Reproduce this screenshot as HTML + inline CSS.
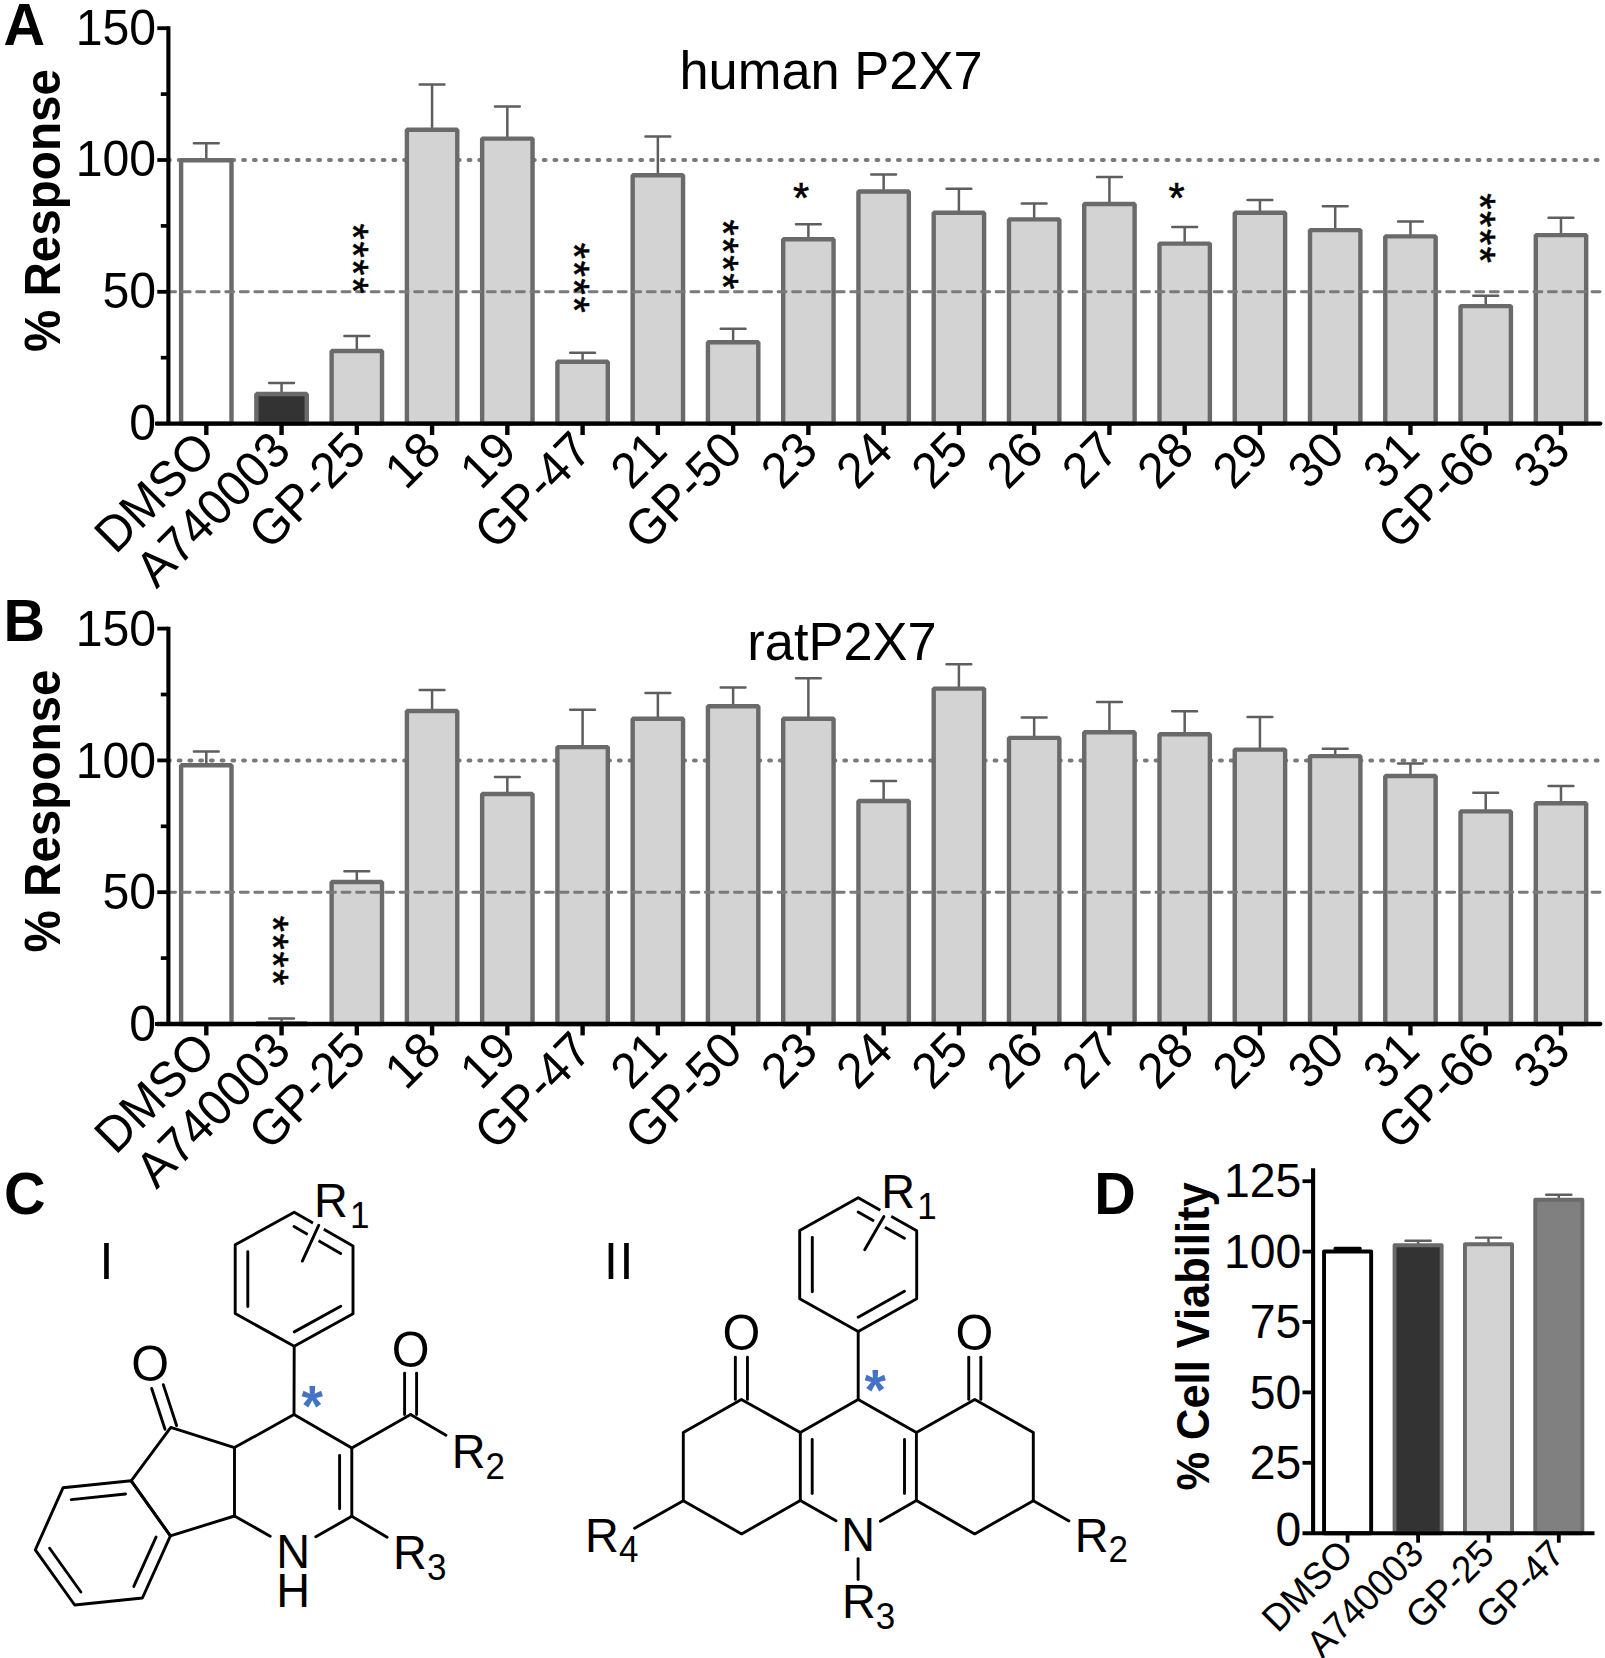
<!DOCTYPE html>
<html lang="en"><head><meta charset="utf-8"><title>P2X7 antagonist screening figure</title>
<style>html,body{margin:0;padding:0;background:#fff}body{width:1605px;height:1658px;overflow:hidden}svg{display:block}text{font-family:'Liberation Sans', sans-serif;fill:#000}</style></head><body>
<svg width="1605" height="1658" viewBox="0 0 1605 1658">
<rect width="1605" height="1658" fill="#fff"/>
<g>
<line x1="168.0" y1="160" x2="1599" y2="160" stroke="#7a7a7a" stroke-width="4.05" stroke-linecap="round" stroke-dasharray="1.8 8.935"/>
<path d="M193.9 143.3H218.7M206.3 143.3V160.2" stroke="#5e5e5e" stroke-width="2.5" fill="none" stroke-linecap="round"/>
<rect x="181.1" y="160.2" width="50.4" height="263.4" fill="#ffffff" stroke="#6a6a6a" stroke-width="4.4" stroke-linejoin="bevel"/>
<path d="M269.16 383H293.96M281.56 383V394" stroke="#5e5e5e" stroke-width="2.5" fill="none" stroke-linecap="round"/>
<rect x="256.36" y="394" width="50.4" height="29.6" fill="#333333" stroke="#6a6a6a" stroke-width="4.4" stroke-linejoin="bevel"/>
<path d="M344.42 335.9H369.22M356.82 335.9V351" stroke="#5e5e5e" stroke-width="2.5" fill="none" stroke-linecap="round"/>
<rect x="331.62" y="351" width="50.4" height="72.6" fill="#d3d3d3" stroke="#6a6a6a" stroke-width="4.4" stroke-linejoin="bevel"/>
<path d="M419.68 84.4H444.48M432.08 84.4V129.7" stroke="#5e5e5e" stroke-width="2.5" fill="none" stroke-linecap="round"/>
<rect x="406.88" y="129.7" width="50.4" height="293.9" fill="#d3d3d3" stroke="#6a6a6a" stroke-width="4.4" stroke-linejoin="bevel"/>
<path d="M494.94 106.6H519.74M507.34 106.6V138.6" stroke="#5e5e5e" stroke-width="2.5" fill="none" stroke-linecap="round"/>
<rect x="482.14" y="138.6" width="50.4" height="285" fill="#d3d3d3" stroke="#6a6a6a" stroke-width="4.4" stroke-linejoin="bevel"/>
<path d="M570.2 352.8H595M582.6 352.8V361.7" stroke="#5e5e5e" stroke-width="2.5" fill="none" stroke-linecap="round"/>
<rect x="557.4" y="361.7" width="50.4" height="61.9" fill="#d3d3d3" stroke="#6a6a6a" stroke-width="4.4" stroke-linejoin="bevel"/>
<path d="M645.46 136.5H670.26M657.86 136.5V175.3" stroke="#5e5e5e" stroke-width="2.5" fill="none" stroke-linecap="round"/>
<rect x="632.66" y="175.3" width="50.4" height="248.3" fill="#d3d3d3" stroke="#6a6a6a" stroke-width="4.4" stroke-linejoin="bevel"/>
<path d="M720.72 328.7H745.52M733.12 328.7V342.3" stroke="#5e5e5e" stroke-width="2.5" fill="none" stroke-linecap="round"/>
<rect x="707.92" y="342.3" width="50.4" height="81.3" fill="#d3d3d3" stroke="#6a6a6a" stroke-width="4.4" stroke-linejoin="bevel"/>
<path d="M795.98 224.2H820.78M808.38 224.2V239.3" stroke="#5e5e5e" stroke-width="2.5" fill="none" stroke-linecap="round"/>
<rect x="783.18" y="239.3" width="50.4" height="184.3" fill="#d3d3d3" stroke="#6a6a6a" stroke-width="4.4" stroke-linejoin="bevel"/>
<path d="M871.24 174.4H896.04M883.64 174.4V191.5" stroke="#5e5e5e" stroke-width="2.5" fill="none" stroke-linecap="round"/>
<rect x="858.44" y="191.5" width="50.4" height="232.1" fill="#d3d3d3" stroke="#6a6a6a" stroke-width="4.4" stroke-linejoin="bevel"/>
<path d="M946.5 188.8H971.3M958.9 188.8V212.7" stroke="#5e5e5e" stroke-width="2.5" fill="none" stroke-linecap="round"/>
<rect x="933.7" y="212.7" width="50.4" height="210.9" fill="#d3d3d3" stroke="#6a6a6a" stroke-width="4.4" stroke-linejoin="bevel"/>
<path d="M1021.76 203.6H1046.56M1034.16 203.6V219.4" stroke="#5e5e5e" stroke-width="2.5" fill="none" stroke-linecap="round"/>
<rect x="1008.96" y="219.4" width="50.4" height="204.2" fill="#d3d3d3" stroke="#6a6a6a" stroke-width="4.4" stroke-linejoin="bevel"/>
<path d="M1097.02 177.1H1121.82M1109.42 177.1V204" stroke="#5e5e5e" stroke-width="2.5" fill="none" stroke-linecap="round"/>
<rect x="1084.22" y="204" width="50.4" height="219.6" fill="#d3d3d3" stroke="#6a6a6a" stroke-width="4.4" stroke-linejoin="bevel"/>
<path d="M1172.28 227H1197.08M1184.68 227V243.6" stroke="#5e5e5e" stroke-width="2.5" fill="none" stroke-linecap="round"/>
<rect x="1159.48" y="243.6" width="50.4" height="180" fill="#d3d3d3" stroke="#6a6a6a" stroke-width="4.4" stroke-linejoin="bevel"/>
<path d="M1247.54 200H1272.34M1259.94 200V212.7" stroke="#5e5e5e" stroke-width="2.5" fill="none" stroke-linecap="round"/>
<rect x="1234.74" y="212.7" width="50.4" height="210.9" fill="#d3d3d3" stroke="#6a6a6a" stroke-width="4.4" stroke-linejoin="bevel"/>
<path d="M1322.8 206.3H1347.6M1335.2 206.3V230.1" stroke="#5e5e5e" stroke-width="2.5" fill="none" stroke-linecap="round"/>
<rect x="1310" y="230.1" width="50.4" height="193.5" fill="#d3d3d3" stroke="#6a6a6a" stroke-width="4.4" stroke-linejoin="bevel"/>
<path d="M1398.06 221.5H1422.86M1410.46 221.5V236.4" stroke="#5e5e5e" stroke-width="2.5" fill="none" stroke-linecap="round"/>
<rect x="1385.26" y="236.4" width="50.4" height="187.2" fill="#d3d3d3" stroke="#6a6a6a" stroke-width="4.4" stroke-linejoin="bevel"/>
<path d="M1473.32 295.8H1498.12M1485.72 295.8V306.1" stroke="#5e5e5e" stroke-width="2.5" fill="none" stroke-linecap="round"/>
<rect x="1460.52" y="306.1" width="50.4" height="117.5" fill="#d3d3d3" stroke="#6a6a6a" stroke-width="4.4" stroke-linejoin="bevel"/>
<path d="M1548.58 217.8H1573.38M1560.98 217.8V235.1" stroke="#5e5e5e" stroke-width="2.5" fill="none" stroke-linecap="round"/>
<rect x="1535.78" y="235.1" width="50.4" height="188.5" fill="#d3d3d3" stroke="#6a6a6a" stroke-width="4.4" stroke-linejoin="bevel"/>
<line x1="167.6" y1="291.8" x2="1600.5" y2="291.8" stroke="#7a7a7a" stroke-width="2.9" stroke-linecap="round" stroke-dasharray="8 6.535"/>
<path d="M168.4 26.3V423.6" stroke="#000" stroke-width="4.1" fill="none"/>
<path d="M157.3 423.6H1600.3" stroke="#000" stroke-width="4.3" fill="none" stroke-linecap="round"/>
<rect x="155" y="421.65" width="3" height="3.9" fill="#000"/>
<path d="M157.3 291.8H168.4" stroke="#000" stroke-width="3.8"/>
<path d="M157.3 160H168.4" stroke="#000" stroke-width="3.8"/>
<path d="M157.3 28.2H168.4" stroke="#000" stroke-width="3.8"/>
<path d="M160.8 357.7H168.4" stroke="#000" stroke-width="3.7"/>
<path d="M160.8 225.9H168.4" stroke="#000" stroke-width="3.7"/>
<path d="M160.8 94.1H168.4" stroke="#000" stroke-width="3.7"/>
<path d="M206.3 423.6V435" stroke="#000" stroke-width="4.4"/>
<path d="M281.56 423.6V435" stroke="#000" stroke-width="4.4"/>
<path d="M356.82 423.6V435" stroke="#000" stroke-width="4.4"/>
<path d="M432.08 423.6V435" stroke="#000" stroke-width="4.4"/>
<path d="M507.34 423.6V435" stroke="#000" stroke-width="4.4"/>
<path d="M582.6 423.6V435" stroke="#000" stroke-width="4.4"/>
<path d="M657.86 423.6V435" stroke="#000" stroke-width="4.4"/>
<path d="M733.12 423.6V435" stroke="#000" stroke-width="4.4"/>
<path d="M808.38 423.6V435" stroke="#000" stroke-width="4.4"/>
<path d="M883.64 423.6V435" stroke="#000" stroke-width="4.4"/>
<path d="M958.9 423.6V435" stroke="#000" stroke-width="4.4"/>
<path d="M1034.16 423.6V435" stroke="#000" stroke-width="4.4"/>
<path d="M1109.42 423.6V435" stroke="#000" stroke-width="4.4"/>
<path d="M1184.68 423.6V435" stroke="#000" stroke-width="4.4"/>
<path d="M1259.94 423.6V435" stroke="#000" stroke-width="4.4"/>
<path d="M1335.2 423.6V435" stroke="#000" stroke-width="4.4"/>
<path d="M1410.46 423.6V435" stroke="#000" stroke-width="4.4"/>
<path d="M1485.72 423.6V435" stroke="#000" stroke-width="4.4"/>
<path d="M1560.98 423.6V435" stroke="#000" stroke-width="4.4"/>
<text transform="translate(156.1 439.9) scale(0.962 1)" font-size="50.13" text-anchor="end">0</text>
<text transform="translate(156.1 308.1) scale(0.962 1)" font-size="50.13" text-anchor="end">50</text>
<text transform="translate(156.1 176.3) scale(0.962 1)" font-size="50.13" text-anchor="end">100</text>
<text transform="translate(156.1 44.5) scale(0.962 1)" font-size="50.13" text-anchor="end">150</text>
<text transform="translate(217.8 453) rotate(-45) scale(0.962 1)" font-size="50.13" text-anchor="end">DMSO</text>
<text transform="translate(293.06 453) rotate(-45) scale(0.962 1)" font-size="50.13" text-anchor="end">A740003</text>
<text transform="translate(368.32 453) rotate(-45) scale(0.962 1)" font-size="50.13" text-anchor="end">GP-25</text>
<text transform="translate(443.58 453) rotate(-45) scale(0.962 1)" font-size="50.13" text-anchor="end">18</text>
<text transform="translate(518.84 453) rotate(-45) scale(0.962 1)" font-size="50.13" text-anchor="end">19</text>
<text transform="translate(594.1 453) rotate(-45) scale(0.962 1)" font-size="50.13" text-anchor="end">GP-47</text>
<text transform="translate(669.36 453) rotate(-45) scale(0.962 1)" font-size="50.13" text-anchor="end">21</text>
<text transform="translate(744.62 453) rotate(-45) scale(0.962 1)" font-size="50.13" text-anchor="end">GP-50</text>
<text transform="translate(819.88 453) rotate(-45) scale(0.962 1)" font-size="50.13" text-anchor="end">23</text>
<text transform="translate(895.14 453) rotate(-45) scale(0.962 1)" font-size="50.13" text-anchor="end">24</text>
<text transform="translate(970.4 453) rotate(-45) scale(0.962 1)" font-size="50.13" text-anchor="end">25</text>
<text transform="translate(1045.66 453) rotate(-45) scale(0.962 1)" font-size="50.13" text-anchor="end">26</text>
<text transform="translate(1120.92 453) rotate(-45) scale(0.962 1)" font-size="50.13" text-anchor="end">27</text>
<text transform="translate(1196.18 453) rotate(-45) scale(0.962 1)" font-size="50.13" text-anchor="end">28</text>
<text transform="translate(1271.44 453) rotate(-45) scale(0.962 1)" font-size="50.13" text-anchor="end">29</text>
<text transform="translate(1346.7 453) rotate(-45) scale(0.962 1)" font-size="50.13" text-anchor="end">30</text>
<text transform="translate(1421.96 453) rotate(-45) scale(0.962 1)" font-size="50.13" text-anchor="end">31</text>
<text transform="translate(1497.22 453) rotate(-45) scale(0.962 1)" font-size="50.13" text-anchor="end">GP-66</text>
<text transform="translate(1572.48 453) rotate(-45) scale(0.962 1)" font-size="50.13" text-anchor="end">33</text>
<text transform="translate(59.6 210.6) rotate(-90) scale(0.962 1)" font-size="49.5" text-anchor="middle" font-weight="bold">% Response</text>
<text transform="translate(831 89.4) scale(0.962 1)" font-size="54.5" text-anchor="middle">human P2X7</text>
<text transform="translate(24.3 45) scale(0.962 1)" font-size="59.8" text-anchor="middle" font-weight="bold">A</text>
<text transform="translate(338.6 259.3) rotate(90) scale(0.962 1)" font-size="43.16" text-anchor="middle" letter-spacing="1.8" stroke="#000" stroke-width="0.6">****</text>
<text transform="translate(560.4 278.6) rotate(90) scale(0.962 1)" font-size="43.16" text-anchor="middle" letter-spacing="1.8" stroke="#000" stroke-width="0.6">****</text>
<text transform="translate(709.2 255.3) rotate(90) scale(0.962 1)" font-size="43.16" text-anchor="middle" letter-spacing="1.8" stroke="#000" stroke-width="0.6">****</text>
<text transform="translate(801 212.3) scale(0.962 1)" font-size="43.16" text-anchor="middle" stroke="#000" stroke-width="0.6">*</text>
<text transform="translate(1176.5 212.3) scale(0.962 1)" font-size="43.16" text-anchor="middle" stroke="#000" stroke-width="0.6">*</text>
<text transform="translate(1466.4 228.9) rotate(90) scale(0.962 1)" font-size="43.16" text-anchor="middle" letter-spacing="1.8" stroke="#000" stroke-width="0.6">****</text>
</g>
<g>
<line x1="168.0" y1="760.4" x2="1599" y2="760.4" stroke="#7a7a7a" stroke-width="4.05" stroke-linecap="round" stroke-dasharray="1.8 8.935"/>
<path d="M193.9 751.5H218.7M206.3 751.5V765.3" stroke="#5e5e5e" stroke-width="2.5" fill="none" stroke-linecap="round"/>
<rect x="181.1" y="765.3" width="50.4" height="258.7" fill="#ffffff" stroke="#6a6a6a" stroke-width="4.4" stroke-linejoin="bevel"/>
<path d="M269.16 1018.4H293.96M281.56 1018.4V1023.4" stroke="#5e5e5e" stroke-width="2.5" fill="none" stroke-linecap="round"/>
<rect x="256.36" y="1023.4" width="50.4" height="0.6" fill="#333333" stroke="#6a6a6a" stroke-width="4.4" stroke-linejoin="bevel"/>
<path d="M344.42 871.3H369.22M356.82 871.3V882" stroke="#5e5e5e" stroke-width="2.5" fill="none" stroke-linecap="round"/>
<rect x="331.62" y="882" width="50.4" height="142" fill="#d3d3d3" stroke="#6a6a6a" stroke-width="4.4" stroke-linejoin="bevel"/>
<path d="M419.68 689.9H444.48M432.08 689.9V711" stroke="#5e5e5e" stroke-width="2.5" fill="none" stroke-linecap="round"/>
<rect x="406.88" y="711" width="50.4" height="313" fill="#d3d3d3" stroke="#6a6a6a" stroke-width="4.4" stroke-linejoin="bevel"/>
<path d="M494.94 777.1H519.74M507.34 777.1V794" stroke="#5e5e5e" stroke-width="2.5" fill="none" stroke-linecap="round"/>
<rect x="482.14" y="794" width="50.4" height="230" fill="#d3d3d3" stroke="#6a6a6a" stroke-width="4.4" stroke-linejoin="bevel"/>
<path d="M570.2 709.8H595M582.6 709.8V747.1" stroke="#5e5e5e" stroke-width="2.5" fill="none" stroke-linecap="round"/>
<rect x="557.4" y="747.1" width="50.4" height="276.9" fill="#d3d3d3" stroke="#6a6a6a" stroke-width="4.4" stroke-linejoin="bevel"/>
<path d="M645.46 693.1H670.26M657.86 693.1V718.7" stroke="#5e5e5e" stroke-width="2.5" fill="none" stroke-linecap="round"/>
<rect x="632.66" y="718.7" width="50.4" height="305.3" fill="#d3d3d3" stroke="#6a6a6a" stroke-width="4.4" stroke-linejoin="bevel"/>
<path d="M720.72 687.4H745.52M733.12 687.4V706.3" stroke="#5e5e5e" stroke-width="2.5" fill="none" stroke-linecap="round"/>
<rect x="707.92" y="706.3" width="50.4" height="317.7" fill="#d3d3d3" stroke="#6a6a6a" stroke-width="4.4" stroke-linejoin="bevel"/>
<path d="M795.98 678.2H820.78M808.38 678.2V718.7" stroke="#5e5e5e" stroke-width="2.5" fill="none" stroke-linecap="round"/>
<rect x="783.18" y="718.7" width="50.4" height="305.3" fill="#d3d3d3" stroke="#6a6a6a" stroke-width="4.4" stroke-linejoin="bevel"/>
<path d="M871.24 781.1H896.04M883.64 781.1V801" stroke="#5e5e5e" stroke-width="2.5" fill="none" stroke-linecap="round"/>
<rect x="858.44" y="801" width="50.4" height="223" fill="#d3d3d3" stroke="#6a6a6a" stroke-width="4.4" stroke-linejoin="bevel"/>
<path d="M946.5 664.2H971.3M958.9 664.2V688.6" stroke="#5e5e5e" stroke-width="2.5" fill="none" stroke-linecap="round"/>
<rect x="933.7" y="688.6" width="50.4" height="335.4" fill="#d3d3d3" stroke="#6a6a6a" stroke-width="4.4" stroke-linejoin="bevel"/>
<path d="M1021.76 717.6H1046.56M1034.16 717.6V737.9" stroke="#5e5e5e" stroke-width="2.5" fill="none" stroke-linecap="round"/>
<rect x="1008.96" y="737.9" width="50.4" height="286.1" fill="#d3d3d3" stroke="#6a6a6a" stroke-width="4.4" stroke-linejoin="bevel"/>
<path d="M1097.02 701.9H1121.82M1109.42 701.9V732.2" stroke="#5e5e5e" stroke-width="2.5" fill="none" stroke-linecap="round"/>
<rect x="1084.22" y="732.2" width="50.4" height="291.8" fill="#d3d3d3" stroke="#6a6a6a" stroke-width="4.4" stroke-linejoin="bevel"/>
<path d="M1172.28 711.3H1197.08M1184.68 711.3V734.2" stroke="#5e5e5e" stroke-width="2.5" fill="none" stroke-linecap="round"/>
<rect x="1159.48" y="734.2" width="50.4" height="289.8" fill="#d3d3d3" stroke="#6a6a6a" stroke-width="4.4" stroke-linejoin="bevel"/>
<path d="M1247.54 717.1H1272.34M1259.94 717.1V749.6" stroke="#5e5e5e" stroke-width="2.5" fill="none" stroke-linecap="round"/>
<rect x="1234.74" y="749.6" width="50.4" height="274.4" fill="#d3d3d3" stroke="#6a6a6a" stroke-width="4.4" stroke-linejoin="bevel"/>
<path d="M1322.8 748.7H1347.6M1335.2 748.7V756.1" stroke="#5e5e5e" stroke-width="2.5" fill="none" stroke-linecap="round"/>
<rect x="1310" y="756.1" width="50.4" height="267.9" fill="#d3d3d3" stroke="#6a6a6a" stroke-width="4.4" stroke-linejoin="bevel"/>
<path d="M1398.06 763.4H1422.86M1410.46 763.4V776" stroke="#5e5e5e" stroke-width="2.5" fill="none" stroke-linecap="round"/>
<rect x="1385.26" y="776" width="50.4" height="248" fill="#d3d3d3" stroke="#6a6a6a" stroke-width="4.4" stroke-linejoin="bevel"/>
<path d="M1473.32 792.8H1498.12M1485.72 792.8V811.4" stroke="#5e5e5e" stroke-width="2.5" fill="none" stroke-linecap="round"/>
<rect x="1460.52" y="811.4" width="50.4" height="212.6" fill="#d3d3d3" stroke="#6a6a6a" stroke-width="4.4" stroke-linejoin="bevel"/>
<path d="M1548.58 785.9H1573.38M1560.98 785.9V803.2" stroke="#5e5e5e" stroke-width="2.5" fill="none" stroke-linecap="round"/>
<rect x="1535.78" y="803.2" width="50.4" height="220.8" fill="#d3d3d3" stroke="#6a6a6a" stroke-width="4.4" stroke-linejoin="bevel"/>
<line x1="167.6" y1="892.2" x2="1600.5" y2="892.2" stroke="#7a7a7a" stroke-width="2.9" stroke-linecap="round" stroke-dasharray="8 6.535"/>
<path d="M168.4 626.7V1024" stroke="#000" stroke-width="4.1" fill="none"/>
<path d="M157.3 1024H1600.3" stroke="#000" stroke-width="4.3" fill="none" stroke-linecap="round"/>
<rect x="155" y="1022.05" width="3" height="3.9" fill="#000"/>
<path d="M157.3 892.2H168.4" stroke="#000" stroke-width="3.8"/>
<path d="M157.3 760.4H168.4" stroke="#000" stroke-width="3.8"/>
<path d="M157.3 628.6H168.4" stroke="#000" stroke-width="3.8"/>
<path d="M160.8 958.1H168.4" stroke="#000" stroke-width="3.7"/>
<path d="M160.8 826.3H168.4" stroke="#000" stroke-width="3.7"/>
<path d="M160.8 694.5H168.4" stroke="#000" stroke-width="3.7"/>
<path d="M206.3 1024V1035.4" stroke="#000" stroke-width="4.4"/>
<path d="M281.56 1024V1035.4" stroke="#000" stroke-width="4.4"/>
<path d="M356.82 1024V1035.4" stroke="#000" stroke-width="4.4"/>
<path d="M432.08 1024V1035.4" stroke="#000" stroke-width="4.4"/>
<path d="M507.34 1024V1035.4" stroke="#000" stroke-width="4.4"/>
<path d="M582.6 1024V1035.4" stroke="#000" stroke-width="4.4"/>
<path d="M657.86 1024V1035.4" stroke="#000" stroke-width="4.4"/>
<path d="M733.12 1024V1035.4" stroke="#000" stroke-width="4.4"/>
<path d="M808.38 1024V1035.4" stroke="#000" stroke-width="4.4"/>
<path d="M883.64 1024V1035.4" stroke="#000" stroke-width="4.4"/>
<path d="M958.9 1024V1035.4" stroke="#000" stroke-width="4.4"/>
<path d="M1034.16 1024V1035.4" stroke="#000" stroke-width="4.4"/>
<path d="M1109.42 1024V1035.4" stroke="#000" stroke-width="4.4"/>
<path d="M1184.68 1024V1035.4" stroke="#000" stroke-width="4.4"/>
<path d="M1259.94 1024V1035.4" stroke="#000" stroke-width="4.4"/>
<path d="M1335.2 1024V1035.4" stroke="#000" stroke-width="4.4"/>
<path d="M1410.46 1024V1035.4" stroke="#000" stroke-width="4.4"/>
<path d="M1485.72 1024V1035.4" stroke="#000" stroke-width="4.4"/>
<path d="M1560.98 1024V1035.4" stroke="#000" stroke-width="4.4"/>
<text transform="translate(156.1 1041.2) scale(0.962 1)" font-size="50.13" text-anchor="end">0</text>
<text transform="translate(156.1 909.4) scale(0.962 1)" font-size="50.13" text-anchor="end">50</text>
<text transform="translate(156.1 777.6) scale(0.962 1)" font-size="50.13" text-anchor="end">100</text>
<text transform="translate(156.1 645.8) scale(0.962 1)" font-size="50.13" text-anchor="end">150</text>
<text transform="translate(217.8 1053.4) rotate(-45) scale(0.962 1)" font-size="50.13" text-anchor="end">DMSO</text>
<text transform="translate(293.06 1053.4) rotate(-45) scale(0.962 1)" font-size="50.13" text-anchor="end">A740003</text>
<text transform="translate(368.32 1053.4) rotate(-45) scale(0.962 1)" font-size="50.13" text-anchor="end">GP-25</text>
<text transform="translate(443.58 1053.4) rotate(-45) scale(0.962 1)" font-size="50.13" text-anchor="end">18</text>
<text transform="translate(518.84 1053.4) rotate(-45) scale(0.962 1)" font-size="50.13" text-anchor="end">19</text>
<text transform="translate(594.1 1053.4) rotate(-45) scale(0.962 1)" font-size="50.13" text-anchor="end">GP-47</text>
<text transform="translate(669.36 1053.4) rotate(-45) scale(0.962 1)" font-size="50.13" text-anchor="end">21</text>
<text transform="translate(744.62 1053.4) rotate(-45) scale(0.962 1)" font-size="50.13" text-anchor="end">GP-50</text>
<text transform="translate(819.88 1053.4) rotate(-45) scale(0.962 1)" font-size="50.13" text-anchor="end">23</text>
<text transform="translate(895.14 1053.4) rotate(-45) scale(0.962 1)" font-size="50.13" text-anchor="end">24</text>
<text transform="translate(970.4 1053.4) rotate(-45) scale(0.962 1)" font-size="50.13" text-anchor="end">25</text>
<text transform="translate(1045.66 1053.4) rotate(-45) scale(0.962 1)" font-size="50.13" text-anchor="end">26</text>
<text transform="translate(1120.92 1053.4) rotate(-45) scale(0.962 1)" font-size="50.13" text-anchor="end">27</text>
<text transform="translate(1196.18 1053.4) rotate(-45) scale(0.962 1)" font-size="50.13" text-anchor="end">28</text>
<text transform="translate(1271.44 1053.4) rotate(-45) scale(0.962 1)" font-size="50.13" text-anchor="end">29</text>
<text transform="translate(1346.7 1053.4) rotate(-45) scale(0.962 1)" font-size="50.13" text-anchor="end">30</text>
<text transform="translate(1421.96 1053.4) rotate(-45) scale(0.962 1)" font-size="50.13" text-anchor="end">31</text>
<text transform="translate(1497.22 1053.4) rotate(-45) scale(0.962 1)" font-size="50.13" text-anchor="end">GP-66</text>
<text transform="translate(1572.48 1053.4) rotate(-45) scale(0.962 1)" font-size="50.13" text-anchor="end">33</text>
<text transform="translate(59.6 811) rotate(-90) scale(0.962 1)" font-size="49.5" text-anchor="middle" font-weight="bold">% Response</text>
<text transform="translate(842 659.8) scale(0.962 1)" font-size="54.5" text-anchor="middle">ratP2X7</text>
<text transform="translate(24.3 641) scale(0.962 1)" font-size="59.8" text-anchor="middle" font-weight="bold">B</text>
<text transform="translate(258.9 951.5) rotate(90) scale(0.962 1)" font-size="43.16" text-anchor="middle" letter-spacing="1.8" stroke="#000" stroke-width="0.6">****</text>
</g>
<g>
<path d="M294.2 1212.2L353 1246L353 1313.8L294.2 1346.3L235.2 1313.6L235.2 1244.8Z" fill="none" stroke="#000" stroke-width="2.9" stroke-linejoin="round" stroke-linecap="round"/>
<line x1="247.8" y1="1306.6" x2="247.8" y2="1251.8" stroke="#000" stroke-width="2.9" stroke-linecap="round"/>
<line x1="340.78" y1="1306.16" x2="294.23" y2="1331.89" stroke="#000" stroke-width="2.9" stroke-linecap="round"/>
<line x1="293.99" y1="1226.61" x2="340.65" y2="1253.44" stroke="#000" stroke-width="2.9" stroke-linecap="round"/>
<line x1="303.55" y1="1258.37" x2="320.3" y2="1222" stroke="#fff" stroke-width="12.5" stroke-linecap="butt"/>
<line x1="302.3" y1="1261.1" x2="318.8" y2="1225.2" stroke="#000" stroke-width="2.9" stroke-linecap="round"/>
<line x1="294.2" y1="1346.3" x2="294" y2="1414.6" stroke="#000" stroke-width="2.9" stroke-linecap="round"/>
<path d="M234.5 1447.6L294 1414.6L351.8 1448L351.8 1516.3" fill="none" stroke="#000" stroke-width="2.9" stroke-linejoin="round" stroke-linecap="round"/>
<line x1="234.5" y1="1447.6" x2="234.5" y2="1516" stroke="#000" stroke-width="2.9" stroke-linecap="round"/>
<line x1="234.5" y1="1516" x2="270.2" y2="1536.2" stroke="#000" stroke-width="2.9" stroke-linecap="round"/>
<line x1="351.8" y1="1516.3" x2="315.8" y2="1536.8" stroke="#000" stroke-width="2.9" stroke-linecap="round"/>
<line x1="339.6" y1="1455.5" x2="339.6" y2="1508.8" stroke="#000" stroke-width="2.9" stroke-linecap="round"/>
<path d="M234.5 1447.6L170.8 1427.4L131.2 1480.8L170.4 1535.9L234.5 1516" fill="none" stroke="#000" stroke-width="2.9" stroke-linejoin="round" stroke-linecap="round"/>
<path d="M131.2 1480.8L170.4 1535.9L142.4 1598L74.7 1605L35.3 1549.9L63 1487.8Z" fill="none" stroke="#000" stroke-width="2.9" stroke-linejoin="round" stroke-linecap="round"/>
<line x1="71.25" y1="1499.62" x2="125.52" y2="1494.05" stroke="#000" stroke-width="2.9" stroke-linecap="round"/>
<line x1="80.88" y1="1591.98" x2="49.62" y2="1548.27" stroke="#000" stroke-width="2.9" stroke-linecap="round"/>
<line x1="133.79" y1="1586.44" x2="156.04" y2="1537.1" stroke="#000" stroke-width="2.9" stroke-linecap="round"/>
<line x1="176.6" y1="1425.51" x2="163.28" y2="1384.65" stroke="#000" stroke-width="2.9" stroke-linecap="round"/>
<line x1="165" y1="1429.29" x2="151.68" y2="1388.43" stroke="#000" stroke-width="2.9" stroke-linecap="round"/>
<line x1="351.8" y1="1448" x2="410.6" y2="1414.6" stroke="#000" stroke-width="2.9" stroke-linecap="round"/>
<line x1="410.6" y1="1414.6" x2="446" y2="1435.3" stroke="#000" stroke-width="2.9" stroke-linecap="round"/>
<line x1="416.6" y1="1414.6" x2="416.6" y2="1373.2" stroke="#000" stroke-width="2.9" stroke-linecap="round"/>
<line x1="404.6" y1="1414.6" x2="404.6" y2="1373.2" stroke="#000" stroke-width="2.9" stroke-linecap="round"/>
<line x1="351.8" y1="1516.3" x2="387.1" y2="1537.2" stroke="#000" stroke-width="2.9" stroke-linecap="round"/>
</g>
<text transform="translate(150.1 1380.6) scale(0.962 1)" font-size="50.54" text-anchor="middle">O</text>
<text transform="translate(410.7 1366.9) scale(0.962 1)" font-size="50.54" text-anchor="middle">O</text>
<text transform="translate(293.2 1567.8) scale(0.962 1)" font-size="48.67" text-anchor="middle">N</text>
<text transform="translate(293.2 1606.9) scale(0.962 1)" font-size="48.67" text-anchor="middle">H</text>
<text transform="translate(314.1 1217.1) scale(0.962 1)" font-size="48.67">R<tspan font-size="36.4" dx="2.3" dy="10.8">1</tspan></text>
<text transform="translate(451.8 1467.7) scale(0.962 1)" font-size="48.67">R<tspan font-size="36.4" dy="10.8">2</tspan></text>
<text transform="translate(393.1 1569) scale(0.962 1)" font-size="48.67">R<tspan font-size="36.4" dy="10.8">3</tspan></text>
<text transform="translate(312.3 1425.5) scale(0.962 1)" font-size="57.2" text-anchor="middle" font-weight="bold" style="fill:#4472c4">*</text>
<text transform="translate(106.4 1279.1) scale(0.962 1)" font-size="52" text-anchor="middle">I</text>
<text transform="translate(24.8 1213.8) scale(0.962 1)" font-size="59.8" text-anchor="middle" font-weight="bold">C</text>
<g>
<path d="M858.2 1197.7L916.7 1230.7L916.7 1298.8L858.2 1331.6L799.7 1298.8L799.7 1230.5Z" fill="none" stroke="#000" stroke-width="2.9" stroke-linejoin="round" stroke-linecap="round"/>
<line x1="812.3" y1="1291.8" x2="812.3" y2="1237.5" stroke="#000" stroke-width="2.9" stroke-linecap="round"/>
<line x1="904.43" y1="1291.23" x2="858.14" y2="1317.19" stroke="#000" stroke-width="2.9" stroke-linecap="round"/>
<line x1="858.11" y1="1212.11" x2="904.41" y2="1238.24" stroke="#000" stroke-width="2.9" stroke-linecap="round"/>
<line x1="866.2" y1="1247.2" x2="887.3" y2="1210.7" stroke="#fff" stroke-width="12.5" stroke-linecap="butt"/>
<line x1="864.7" y1="1249.8" x2="883.9" y2="1216.6" stroke="#000" stroke-width="2.9" stroke-linecap="round"/>
<line x1="858.2" y1="1331.6" x2="858.2" y2="1399.4" stroke="#000" stroke-width="2.9" stroke-linecap="round"/>
<path d="M800.3 1500.6L800.3 1432.5L858.2 1399.4L916.4 1432.5L916.4 1500.6" fill="none" stroke="#000" stroke-width="2.9" stroke-linejoin="round" stroke-linecap="round"/>
<line x1="800.3" y1="1500.6" x2="836" y2="1520.8" stroke="#000" stroke-width="2.9" stroke-linecap="round"/>
<line x1="916.4" y1="1500.6" x2="880.3" y2="1521.2" stroke="#000" stroke-width="2.9" stroke-linecap="round"/>
<line x1="812.2" y1="1439.5" x2="812.2" y2="1493.6" stroke="#000" stroke-width="2.9" stroke-linecap="round"/>
<line x1="904.5" y1="1439.5" x2="904.5" y2="1493.6" stroke="#000" stroke-width="2.9" stroke-linecap="round"/>
<path d="M800.3 1432.5L741.4 1399.4L683.3 1432.5L683.3 1500.8L741.6 1533.9L800.3 1500.6" fill="none" stroke="#000" stroke-width="2.9" stroke-linejoin="round" stroke-linecap="round"/>
<path d="M916.4 1432.5L974.8 1399.4L1033.3 1432.5L1033.3 1500.8L974.7 1533.9L916.4 1500.6" fill="none" stroke="#000" stroke-width="2.9" stroke-linejoin="round" stroke-linecap="round"/>
<line x1="747.45" y1="1399.4" x2="747.45" y2="1357.2" stroke="#000" stroke-width="2.9" stroke-linecap="round"/>
<line x1="735.35" y1="1399.4" x2="735.35" y2="1357.2" stroke="#000" stroke-width="2.9" stroke-linecap="round"/>
<line x1="980.85" y1="1399.4" x2="980.85" y2="1357.2" stroke="#000" stroke-width="2.9" stroke-linecap="round"/>
<line x1="968.75" y1="1399.4" x2="968.75" y2="1357.2" stroke="#000" stroke-width="2.9" stroke-linecap="round"/>
<line x1="683.3" y1="1500.8" x2="634.6" y2="1528.2" stroke="#000" stroke-width="2.9" stroke-linecap="round"/>
<line x1="1033.3" y1="1500.8" x2="1069" y2="1520.9" stroke="#000" stroke-width="2.9" stroke-linecap="round"/>
<line x1="858.1" y1="1558.6" x2="858.1" y2="1579.6" stroke="#000" stroke-width="2.9" stroke-linecap="round"/>
</g>
<text transform="translate(741.5 1350.4) scale(0.962 1)" font-size="50.54" text-anchor="middle">O</text>
<text transform="translate(974.3 1350.4) scale(0.962 1)" font-size="50.54" text-anchor="middle">O</text>
<text transform="translate(858.1 1551.2) scale(0.962 1)" font-size="48.67" text-anchor="middle">N</text>
<text transform="translate(881.3 1208.3) scale(0.962 1)" font-size="48.67">R<tspan font-size="36.4" dx="2.3" dy="10.8">1</tspan></text>
<text transform="translate(841.9 1618.2) scale(0.962 1)" font-size="48.67">R<tspan font-size="36.4" dy="10.8">3</tspan></text>
<text transform="translate(585.1 1551.5) scale(0.962 1)" font-size="48.67">R<tspan font-size="36.4" dy="10.8">4</tspan></text>
<text transform="translate(1074.8 1551.5) scale(0.962 1)" font-size="48.67">R<tspan font-size="36.4" dy="10.8">2</tspan></text>
<text transform="translate(875.2 1409.6) scale(0.962 1)" font-size="57.2" text-anchor="middle" font-weight="bold" style="fill:#4472c4">*</text>
<text transform="translate(619.4 1279) scale(0.962 1)" font-size="52" text-anchor="middle" letter-spacing="1.6">II</text>
<g>
<path d="M1335 1248.4H1360.2M1347.6 1248.4V1251.5" stroke="#000" stroke-width="3.2" fill="none" stroke-linecap="round"/>
<rect x="1324.05" y="1251.5" width="47.1" height="281.7" fill="#fff" stroke="#000" stroke-width="3.9" stroke-linejoin="round"/>
<path d="M1405.5 1240.8H1430.7M1418.1 1240.8V1245.3" stroke="#5e5e5e" stroke-width="2.4" fill="none" stroke-linecap="round"/>
<rect x="1394.55" y="1245.3" width="47.1" height="287.9" fill="#333333" stroke="#6a6a6a" stroke-width="3.9" stroke-linejoin="round"/>
<path d="M1475.9 1237.6H1501.1M1488.5 1237.6V1244.2" stroke="#5e5e5e" stroke-width="2.4" fill="none" stroke-linecap="round"/>
<rect x="1464.95" y="1244.2" width="47.1" height="289" fill="#d3d3d3" stroke="#6a6a6a" stroke-width="3.9" stroke-linejoin="round"/>
<path d="M1546.2 1194.7H1571.4M1558.8 1194.7V1199.8" stroke="#5e5e5e" stroke-width="2.4" fill="none" stroke-linecap="round"/>
<rect x="1535.25" y="1199.8" width="47.1" height="333.4" fill="#808080" stroke="#6a6a6a" stroke-width="3.9" stroke-linejoin="round"/>
<path d="M1313.1 1168.2V1533.2" stroke="#000" stroke-width="4.1" fill="none"/>
<path d="M1302.5 1533.2H1594.5" stroke="#000" stroke-width="4" fill="none"/>
<path d="M1302.5 1462.8H1313.1" stroke="#000" stroke-width="3.8"/>
<text transform="translate(1301.2 1479) scale(0.962 1)" font-size="48.15" text-anchor="end">25</text>
<path d="M1302.5 1392.4H1313.1" stroke="#000" stroke-width="3.8"/>
<text transform="translate(1301.2 1408.6) scale(0.962 1)" font-size="48.15" text-anchor="end">50</text>
<path d="M1302.5 1322H1313.1" stroke="#000" stroke-width="3.8"/>
<text transform="translate(1301.2 1338.2) scale(0.962 1)" font-size="48.15" text-anchor="end">75</text>
<path d="M1302.5 1251.6H1313.1" stroke="#000" stroke-width="3.8"/>
<text transform="translate(1301.2 1267.8) scale(0.962 1)" font-size="48.15" text-anchor="end">100</text>
<path d="M1302.5 1181.2H1313.1" stroke="#000" stroke-width="3.8"/>
<text transform="translate(1301.2 1197.4) scale(0.962 1)" font-size="48.15" text-anchor="end">125</text>
<text transform="translate(1301.2 1546.4) scale(0.962 1)" font-size="48.15" text-anchor="end">0</text>
<path d="M1347.6 1533.2V1542.7" stroke="#000" stroke-width="3.8"/>
<text transform="translate(1355.1 1556.2) rotate(-45) scale(0.962 1)" font-size="37.96" text-anchor="end">DMSO</text>
<path d="M1418.1 1533.2V1542.7" stroke="#000" stroke-width="3.8"/>
<text transform="translate(1425.6 1556.2) rotate(-45) scale(0.962 1)" font-size="37.96" text-anchor="end">A740003</text>
<path d="M1488.5 1533.2V1542.7" stroke="#000" stroke-width="3.8"/>
<text transform="translate(1496 1556.2) rotate(-45) scale(0.962 1)" font-size="37.96" text-anchor="end">GP-25</text>
<path d="M1558.8 1533.2V1542.7" stroke="#000" stroke-width="3.8"/>
<text transform="translate(1566.3 1556.2) rotate(-45) scale(0.962 1)" font-size="37.96" text-anchor="end">GP-47</text>
<text transform="translate(1208.8 1336.5) rotate(-90) scale(0.9389 1)" font-size="46.28" text-anchor="middle" font-weight="bold">% Cell Viability</text>
<text transform="translate(1115 1214) scale(0.962 1)" font-size="59.8" text-anchor="middle" font-weight="bold">D</text>
</g>
</svg></body></html>
